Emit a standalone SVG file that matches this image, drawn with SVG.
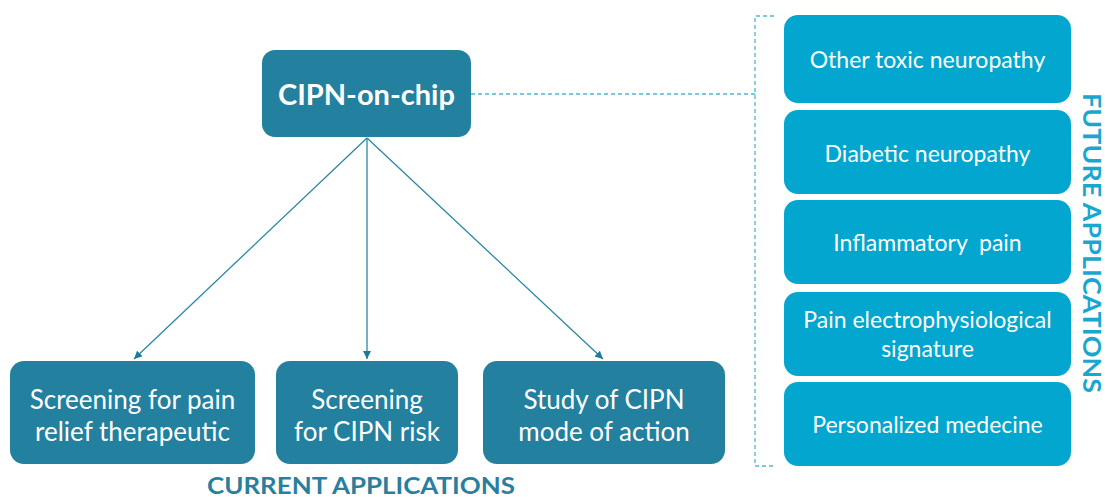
<svg xmlns="http://www.w3.org/2000/svg" width="1105" height="497" viewBox="0 0 1105 497">
<style>
.dark{fill:#23809F}
.light{fill:#02A6CE}
.t{font-family:Lato,"Liberation Sans",sans-serif;fill:#fff;text-anchor:middle}
.tb{font-size:26px}
.tr{font-size:23px}
.conn{stroke:#2A87A6;stroke-width:1.3;fill:none}
.dash{stroke:#4DB6D4;stroke-width:1.3;fill:none;stroke-dasharray:4 3}
.lab{font-family:Lato,"Liberation Sans",sans-serif;font-weight:bold;text-anchor:middle}
</style>
<defs>
<marker id="ah" viewBox="0 0 10 10" refX="10" refY="5" markerWidth="8" markerHeight="8" markerUnits="userSpaceOnUse" orient="auto">
<path d="M0,0 L10,5 L0,10 z" fill="#1F7A98"/>
</marker>
</defs>
<rect width="1105" height="497" fill="#fff"/>
<g id="connectors">
<line class="conn" x1="367" y1="138" x2="134" y2="359" marker-end="url(#ah)"/>
<line class="conn" x1="367" y1="138" x2="367" y2="359" marker-end="url(#ah)"/>
<line class="conn" x1="367" y1="138" x2="603" y2="359" marker-end="url(#ah)"/>
<path class="dash" d="M471,94 H755"/>
<path class="dash" d="M774,16 H755 V466 H774"/>
</g>
<g id="n-cipn">
<rect class="dark" x="262" y="50" width="209" height="87" rx="13"/>
<text class="t" x="366.5" y="105" font-size="29" font-weight="bold">CIPN-on-chip</text>
</g>
<g id="n-screen-pain">
<rect class="dark" x="10" y="361" width="245" height="103" rx="14"/>
<text class="t tb" x="132.5" y="409">Screening for pain</text>
<text class="t tb" x="132.5" y="441">relief therapeutic</text>
</g>
<g id="n-screen-risk">
<rect class="dark" x="276" y="361" width="182" height="103" rx="14"/>
<text class="t tb" x="367" y="409">Screening</text>
<text class="t tb" x="367" y="441">for CIPN risk</text>
</g>
<g id="n-study">
<rect class="dark" x="483" y="361" width="242" height="103" rx="14"/>
<text class="t tb" x="604" y="409">Study of CIPN</text>
<text class="t tb" x="604" y="441">mode of action</text>
</g>
<g id="n-toxic">
<rect class="light" x="784" y="15" width="287" height="88" rx="14"/>
<text class="t tr" x="927.5" y="68">Other toxic neuropathy</text>
</g>
<g id="n-diabetic">
<rect class="light" x="784" y="110" width="287" height="84" rx="14"/>
<text class="t tr" x="927.5" y="162">Diabetic neuropathy</text>
</g>
<g id="n-inflam">
<rect class="light" x="784" y="200" width="287" height="84" rx="14"/>
<text class="t tr" x="927.5" y="251" xml:space="preserve">Inflammatory  pain</text>
</g>
<g id="n-electro">
<rect class="light" x="784" y="292" width="287" height="84" rx="14"/>
<text class="t tr" x="927.5" y="328">Pain electrophysiological</text>
<text class="t tr" x="927.5" y="357">signature</text>
</g>
<g id="n-person">
<rect class="light" x="784" y="382" width="287" height="84" rx="14"/>
<text class="t tr" x="927.5" y="433">Personalized medecine</text>
</g>
<g id="labels">
<text class="lab" x="361" y="494" font-size="23" fill="#2A7F9E" textLength="308" lengthAdjust="spacingAndGlyphs">CURRENT APPLICATIONS</text>
<text class="lab" transform="translate(1083,243) rotate(90)" x="0" y="0" font-size="24" fill="#1AA7CF" textLength="300" lengthAdjust="spacingAndGlyphs">FUTURE APPLICATIONS</text>
</g>
</svg>
